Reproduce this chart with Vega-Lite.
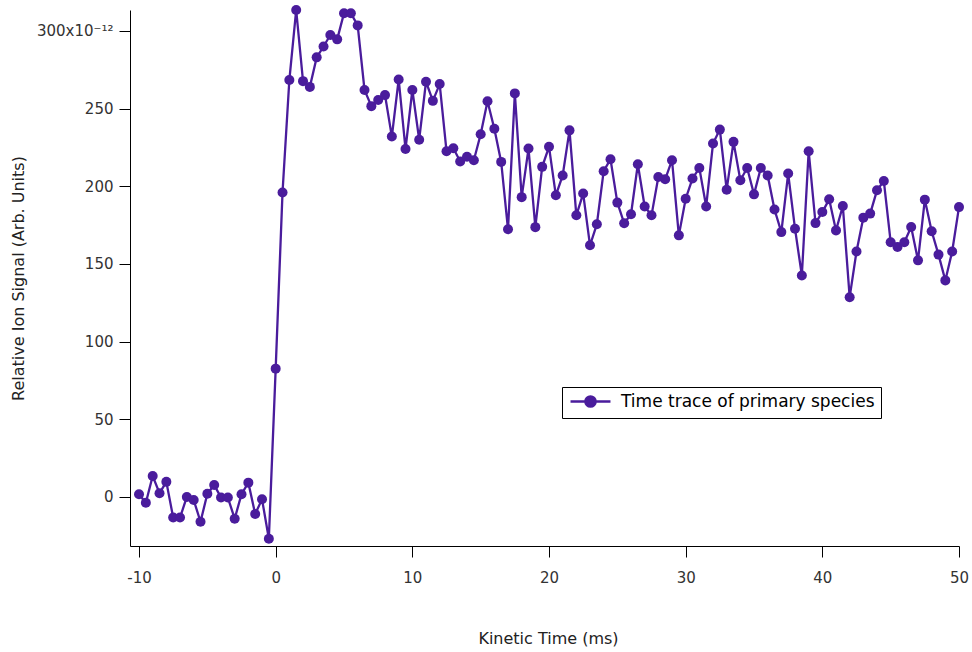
{
  "$schema": "https://vega.github.io/schema/vega-lite/v6.json",
  "width": 829,
  "height": 536,
  "autosize": {"type": "none"},
  "padding": {"left": 130, "top": 10, "right": 13, "bottom": 106},
  "background": "white",
  "config": {
    "view": {"stroke": null},
    "font": "DejaVu Sans",
    "axis": {
      "grid": false,
      "domainColor": "black",
      "domainWidth": 1,
      "tickColor": "black",
      "tickWidth": 1,
      "tickSize": 11,
      "labelFont": "DejaVu Sans",
      "labelFontSize": 15,
      "labelColor": "#333333",
      "titleFont": "DejaVu Sans",
      "titleFontSize": 16,
      "titleFontWeight": "normal",
      "titleColor": "#222222"
    }
  },
  "data": {
    "values": [
      {"t": -10, "s": 1.7}, {"t": -9.5, "s": -3.7}, {"t": -9, "s": 13.5}, {"t": -8.5, "s": 2.4},
      {"t": -8, "s": 9.7}, {"t": -7.5, "s": -13.3}, {"t": -7, "s": -13.3}, {"t": -6.5, "s": 0},
      {"t": -6, "s": -2}, {"t": -5.5, "s": -16}, {"t": -5, "s": 2}, {"t": -4.5, "s": 7.7},
      {"t": -4, "s": -0.4}, {"t": -3.5, "s": -0.4}, {"t": -3, "s": -14}, {"t": -2.5, "s": 1.7},
      {"t": -2, "s": 9.2}, {"t": -1.5, "s": -11}, {"t": -1, "s": -1.5}, {"t": -0.5, "s": -26.9},
      {"t": 0, "s": 82.6}, {"t": 0.5, "s": 196}, {"t": 1, "s": 268.4}, {"t": 1.5, "s": 313.5},
      {"t": 2, "s": 267.7}, {"t": 2.5, "s": 264}, {"t": 3, "s": 283}, {"t": 3.5, "s": 290},
      {"t": 4, "s": 297.4}, {"t": 4.5, "s": 294.6}, {"t": 5, "s": 311.4}, {"t": 5.5, "s": 311.4},
      {"t": 6, "s": 303.6}, {"t": 6.5, "s": 262}, {"t": 7, "s": 251.6}, {"t": 7.5, "s": 255.5},
      {"t": 8, "s": 258.7}, {"t": 8.5, "s": 232}, {"t": 9, "s": 268.8}, {"t": 9.5, "s": 224},
      {"t": 10, "s": 262}, {"t": 10.5, "s": 230}, {"t": 11, "s": 267.3}, {"t": 11.5, "s": 255},
      {"t": 12, "s": 265.8}, {"t": 12.5, "s": 222.6}, {"t": 13, "s": 224.5}, {"t": 13.5, "s": 216},
      {"t": 14, "s": 219}, {"t": 14.5, "s": 216.8}, {"t": 15, "s": 233.5}, {"t": 15.5, "s": 254.8},
      {"t": 16, "s": 237}, {"t": 16.5, "s": 215.7}, {"t": 17, "s": 172.3}, {"t": 17.5, "s": 259.8},
      {"t": 18, "s": 193}, {"t": 18.5, "s": 224.3}, {"t": 19, "s": 173.7}, {"t": 19.5, "s": 212.5},
      {"t": 20, "s": 225.4}, {"t": 20.5, "s": 194.2}, {"t": 21, "s": 207}, {"t": 21.5, "s": 236},
      {"t": 22, "s": 181.3}, {"t": 22.5, "s": 195.3}, {"t": 23, "s": 162}, {"t": 23.5, "s": 175.5},
      {"t": 24, "s": 209.7}, {"t": 24.5, "s": 217.4}, {"t": 25, "s": 189.5}, {"t": 25.5, "s": 176.2},
      {"t": 26, "s": 182}, {"t": 26.5, "s": 214.2}, {"t": 27, "s": 187}, {"t": 27.5, "s": 181.3},
      {"t": 28, "s": 206}, {"t": 28.5, "s": 204.5}, {"t": 29, "s": 216.8}, {"t": 29.5, "s": 168.4},
      {"t": 30, "s": 192}, {"t": 30.5, "s": 205}, {"t": 31, "s": 211.8}, {"t": 31.5, "s": 187},
      {"t": 32, "s": 227.5}, {"t": 32.5, "s": 236.5}, {"t": 33, "s": 197.8}, {"t": 33.5, "s": 228.6},
      {"t": 34, "s": 203.9}, {"t": 34.5, "s": 211.8}, {"t": 35, "s": 194.8}, {"t": 35.5, "s": 211.8},
      {"t": 36, "s": 207}, {"t": 36.5, "s": 185}, {"t": 37, "s": 170.5}, {"t": 37.5, "s": 208.2},
      {"t": 38, "s": 172.7}, {"t": 38.5, "s": 142.6}, {"t": 39, "s": 222.6}, {"t": 39.5, "s": 176.3},
      {"t": 40, "s": 183.4}, {"t": 40.5, "s": 191.6}, {"t": 41, "s": 171.6}, {"t": 41.5, "s": 187.3},
      {"t": 42, "s": 128.6}, {"t": 42.5, "s": 158}, {"t": 43, "s": 179.8}, {"t": 43.5, "s": 182.4},
      {"t": 44, "s": 197.4}, {"t": 44.5, "s": 203.4}, {"t": 45, "s": 164}, {"t": 45.5, "s": 160.9},
      {"t": 46, "s": 164}, {"t": 46.5, "s": 173.8}, {"t": 47, "s": 152.3}, {"t": 47.5, "s": 191.4},
      {"t": 48, "s": 171}, {"t": 48.5, "s": 156}, {"t": 49, "s": 139.4}, {"t": 49.5, "s": 158},
      {"t": 50, "s": 186.6}
    ]
  },
  "encoding": {
    "x": {
      "field": "t",
      "type": "quantitative",
      "scale": {"domain": [-10.66, 50], "nice": false, "zero": false},
      "axis": {
        "values": [-10, 0, 10, 20, 30, 40, 50],
        "title": "Kinetic Time (ms)",
        "labelPadding": 13,
        "labelFlush": false,
        "labelExpr": "replace(datum.label, '−', '-')",
        "titleX": 418,
        "titleY": 92,
        "titleBaseline": "middle"
      }
    },
    "y": {
      "field": "s",
      "type": "quantitative",
      "scale": {"domain": [-31.6, 313.5], "nice": false, "zero": false},
      "axis": {
        "values": [0, 50, 100, 150, 200, 250, 300],
        "title": "Relative Ion Signal (Arb. Units)",
        "labelPadding": 6,
        "labelFlush": false,
        "labelExpr": "datum.value == 300 ? '300x10⁻¹²' : datum.label",
        "titleAngle": -90,
        "titleX": -104,
        "titleY": 268,
        "titleAlign": "center",
        "titleBaseline": "bottom"
      }
    },
    "color": {
      "datum": "Time trace of primary species",
      "type": "nominal",
      "scale": {"range": ["#4a1c9c"]},
      "legend": {
        "title": null,
        "orient": "none",
        "legendX": 432,
        "legendY": 377,
        "strokeColor": "black",
        "fillColor": "white",
        "padding": 6,
        "cornerRadius": 0,
        "symbolType": "M-3.33,0L3.33,0M-0.85,0A0.85,0.85,0,1,1,0.85,0A0.85,0.85,0,1,1,-0.85,0",
        "symbolSize": 144,
        "symbolOffset": 14,
        "labelOffset": 22,
        "labelFont": "DejaVu Sans",
        "labelFontSize": 17,
        "labelColor": "black",
        "labelLimit": 400,
        "encode": {
          "symbols": {
            "update": {
              "fill": {"value": "#4a1c9c"},
              "stroke": {"value": "#4a1c9c"},
              "strokeWidth": {"value": 2.5},
              "opacity": {"value": 1}
            }
          }
        }
      }
    }
  },
  "layer": [
    {"mark": {"type": "line", "strokeWidth": 2.3}},
    {"mark": {"type": "point", "filled": true, "size": 100, "opacity": 1}}
  ]
}
